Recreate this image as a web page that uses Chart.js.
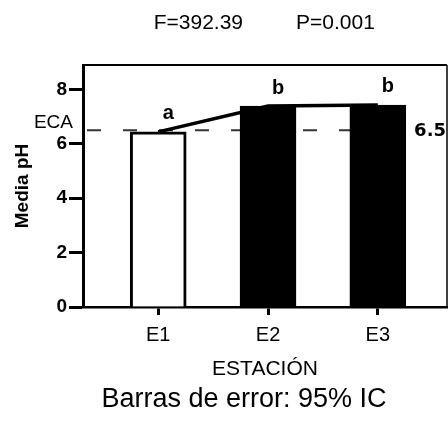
<!DOCTYPE html>
<html>
  <head>
    <meta charset="UTF-8" />
    <title>Media pH por estación</title>
    <script src="https://cdn.jsdelivr.net/npm/chart.js"></script>
    <style>
      body {
        margin: 0;
        background: #fff;
      }
      .wrap {
        width: 448px;
        height: 431px;
      }
    </style>
  </head>
  <body>
    <div class="wrap">
      <canvas id="phChart" width="448" height="431"></canvas>
    </div>

    <script>
      const estaciones = ["E1", "E2", "E3"];
      const mediaPH = [6.44, 7.39, 7.43];
      const letras = ["a", "b", "b"];
      const barColors = ["#ffffff", "#000000", "#000000"];
      const yTicks = [0, 2, 4, 6, 8];
      const eca = 6.5;
      const fTexto = "F=392.39";
      const pTexto = "P=0.001";

      const FONT = "'Liberation Sans', Arial, sans-serif";

      const overlay = {
        id: "overlay",
        beforeDatasetsDraw(chart) {
          const { ctx, chartArea } = chart;
          const y = chart.scales.y.getPixelForValue(eca);
          ctx.save();
          ctx.strokeStyle = "#333";
          ctx.lineWidth = 2;
          ctx.setLineDash([14, 22]);
          ctx.lineDashOffset = 32;
          ctx.beginPath();
          ctx.moveTo(chartArea.left, y);
          ctx.lineTo(chartArea.right - 38, y);
          ctx.stroke();
          ctx.restore();
        },
        afterDraw(chart) {
          const { ctx, chartArea } = chart;
          const xs = chart.scales.x;
          const ys = chart.scales.y;
          ctx.save();
          // frame top / right
          ctx.strokeStyle = "#000";
          ctx.lineWidth = 2;
          ctx.beginPath();
          ctx.moveTo(chartArea.left, chartArea.top);
          ctx.lineTo(chartArea.right, chartArea.top);
          ctx.stroke();
          ctx.lineWidth = 1.5;
          ctx.beginPath();
          ctx.moveTo(chartArea.right, chartArea.top);
          ctx.lineTo(chartArea.right, chartArea.bottom);
          ctx.stroke();

          ctx.fillStyle = "#000";
          // significance letters
          ctx.font = "bold 20px " + FONT;
          ctx.textAlign = "center";
          ctx.textBaseline = "middle";
          letras.forEach((l, i) => {
            ctx.fillText(
              l,
              xs.getPixelForValue(i + 1) + 10,
              ys.getPixelForValue(mediaPH[i]) - 18
            );
          });

          // ECA label + value
          const yEca = ys.getPixelForValue(eca);
          ctx.font = "19px " + FONT;
          ctx.textAlign = "right";
          ctx.fillText("ECA", chartArea.left - 10, yEca - 7);
          ctx.font = "bold 18px 'DejaVu Sans', sans-serif";
          ctx.fillText("6.5", chartArea.right - 1, yEca + 1);

          // header
          ctx.font = "21px " + FONT;
          ctx.textBaseline = "alphabetic";
          ctx.textAlign = "right";
          ctx.fillText(fTexto, 243, 29);
          ctx.textAlign = "left";
          ctx.fillText(pTexto, 296, 29);

          // footer
          ctx.font = "27px " + FONT;
          ctx.textAlign = "center";
          ctx.fillText("Barras de error: 95% IC", 244, 407);
          ctx.restore();
        },
      };

      new Chart(document.getElementById("phChart"), {
        data: {
          datasets: [
            {
              type: "line",
              data: mediaPH.map((v, i) => ({ x: i + 1, y: v })),
              borderColor: "#000",
              borderWidth: 3.5,
              pointRadius: 0,
              tension: 0,
              order: 0,
            },
            {
              type: "bar",
              data: mediaPH.map((v, i) => ({ x: i + 1, y: v })),
              backgroundColor: barColors,
              borderColor: "#000",
              borderWidth: 3,
              barThickness: 56,
              order: 1,
            },
          ],
        },
        options: {
          responsive: false,
          animation: false,
          devicePixelRatio: 1,
          layout: { padding: { top: 65, right: 1, left: 0, bottom: 0 } },
          plugins: {
            legend: { display: false },
            tooltip: { enabled: false },
          },
          scales: {
            x: {
              type: "linear",
              min: 0.315,
              max: 3.63,
              offset: false,
              afterFit: (s) => {
                s.height = 124;
              },
              afterBuildTicks: (s) => {
                s.ticks = estaciones.map((_, i) => ({ value: i + 1 }));
              },
              ticks: {
                callback: (v) => estaciones[v - 1],
                color: "#000",
                font: { family: FONT, size: 20 },
                padding: 8,
                maxRotation: 0,
              },
              grid: {
                offset: false,
                drawOnChartArea: false,
                drawTicks: true,
                tickLength: 8,
                tickWidth: 3,
                tickColor: "#000",
              },
              border: { display: true, color: "#000", width: 2.5 },
              title: {
                display: true,
                text: "ESTACIÓN",
                color: "#000",
                font: { family: FONT, size: 21 },
                padding: { top: 0, bottom: 49 },
              },
            },
            y: {
              min: 0,
              max: 8.9,
              afterFit: (s) => {
                s.width = 83;
              },
              afterBuildTicks: (s) => {
                s.ticks = yTicks.map((v) => ({ value: v }));
              },
              ticks: {
                color: "#000",
                font: { family: FONT, size: 19, weight: "bold" },
                padding: 2,
              },
              grid: {
                drawOnChartArea: false,
                drawTicks: true,
                tickLength: 14,
                tickWidth: 3,
                tickColor: "#000",
              },
              border: { display: true, color: "#000", width: 3 },
              title: {
                display: true,
                text: "Media pH",
                color: "#000",
                font: { family: FONT, size: 19, weight: "bold" },
                padding: { top: 11, bottom: 0 },
              },
            },
          },
        },
        plugins: [overlay],
      });
    </script>
  </body>
</html>
